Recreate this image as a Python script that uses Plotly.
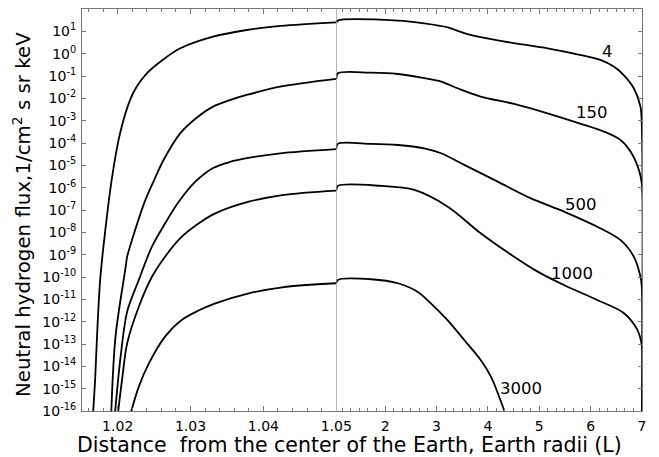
import numpy as np
import plotly.graph_objects as go

# ---------------- data (log10 of flux) ----------------
energies = ["4", "150", "500", "1000", "3000"]

# left panel: L from ~1.015 to 1.05
x4_left = [1.0166, 1.0169, 1.0172, 1.0176, 1.0183, 1.0192, 1.0203, 1.0217, 1.0226, 1.0240, 1.0263, 1.0286, 1.0331, 1.0377, 1.0424, 1.0500]
y4_left = [-16.2, -14.6, -12.4, -10.1, -7.9, -5.6, -3.6, -2.07, -1.48, -0.88, -0.25, 0.24, 0.76, 1.06, 1.24, 1.40]

x150_left = [1.0191, 1.0197, 1.0211, 1.0213, 1.0224, 1.0238, 1.0250, 1.0263, 1.0286, 1.0308, 1.0331, 1.0354, 1.0377, 1.0423, 1.0500]
y150_left = [-16.2, -12.67, -9.54, -9.09, -7.89, -6.55, -5.66, -4.76, -3.56, -2.88, -2.37, -2.08, -1.85, -1.48, -1.13]

x500_left = [1.0196, 1.0204, 1.0213, 1.0229, 1.0247, 1.0266, 1.0284, 1.0307, 1.0331, 1.0354, 1.0377, 1.0423, 1.0500]
y500_left = [-16.2, -13.57, -11.55, -10.13, -8.64, -7.55, -6.62, -5.72, -5.12, -4.85, -4.68, -4.46, -4.27]

x1000_left = [1.0200, 1.0206, 1.0213, 1.0229, 1.0247, 1.0267, 1.0288, 1.0311, 1.0334, 1.0380, 1.0426, 1.0500]
y1000_left = [-16.2, -14.61, -12.97, -11.33, -9.99, -9.0, -8.19, -7.6, -7.15, -6.63, -6.33, -6.13]

x3000_left = [1.0217, 1.0229, 1.0243, 1.0265, 1.0288, 1.0311, 1.0334, 1.0380, 1.0426, 1.0500]
y3000_left = [-16.2, -14.91, -13.86, -12.67, -11.92, -11.5, -11.18, -10.73, -10.46, -10.28]

# right panel: L from 1.05 to 7
x4_right = [1.05, 1.08, 2.25, 2.76, 3.22, 3.54, 3.86, 4.51, 5.16, 5.81, 6.19, 6.45, 6.64, 6.84, 6.97, 7.0, 7.0]
y4_right = [1.40, 1.48, 1.48, 1.36, 1.18, 0.92, 0.74, 0.47, 0.24, -0.06, -0.28, -0.58, -0.95, -1.55, -2.37, -3.56, -17]

x150_right = [1.05, 1.08, 1.73, 2.25, 2.76, 3.09, 3.41, 3.86, 4.51, 5.16, 5.81, 6.26, 6.58, 6.78, 6.94, 7.0, 7.0]
y150_right = [-1.13, -0.88, -0.85, -0.91, -1.10, -1.25, -1.55, -1.92, -2.25, -2.67, -3.14, -3.49, -3.86, -4.39, -5.21, -5.88, -17]

x500_right = [1.05, 1.08, 1.73, 2.25, 2.76, 3.09, 3.54, 4.19, 4.83, 5.48, 6.13, 6.58, 6.84, 6.97, 7.0, 7.0]
y500_right = [-4.27, -4.04, -4.04, -4.09, -4.24, -4.46, -4.98, -5.73, -6.47, -7.07, -7.75, -8.34, -9.09, -9.99, -10.58, -17]

x1000_right = [1.05, 1.08, 1.92, 2.57, 3.22, 3.86, 4.51, 4.97, 5.48, 6.13, 6.65, 6.91, 7.0, 7.0]
y1000_right = [-6.13, -5.92, -5.92, -6.10, -6.85, -8.04, -9.09, -9.76, -10.36, -11.03, -11.62, -12.37, -13.12, -17]

x3000_right = [1.05, 1.08, 1.73, 2.25, 2.63, 2.89, 3.21, 3.54, 3.86, 4.06, 4.22, 4.32, 4.36]
y3000_right = [-10.28, -10.13, -10.10, -10.28, -10.66, -11.18, -11.92, -12.82, -13.72, -14.46, -15.36, -16.0, -16.4]

# label positions (right panel, log10 units)
label_x = [6.32, 6.03, 5.81, 5.64, 4.64]
label_y = [0.09, -2.65, -6.77, -9.83, -14.98]

decades = list(range(-16, 2))
tick_vals_y = [10.0 ** d for d in decades]
tick_text_y = ["10<sup>%d</sup>" % d for d in decades]

left_ticks = [1.02, 1.03, 1.04, 1.05]
right_ticks = [2, 3, 4, 5, 6, 7]

FONT = "DejaVu Sans, Liberation Sans, Arial, sans-serif"
AX = "#777777"

lefts = [(x4_left, y4_left), (x150_left, y150_left), (x500_left, y500_left),
         (x1000_left, y1000_left), (x3000_left, y3000_left)]
rights = [(x4_right, y4_right), (x150_right, y150_right), (x500_right, y500_right),
          (x1000_right, y1000_right), (x3000_right, y3000_right)]

fig = go.Figure()
line = dict(color="black", width=1.8, shape="spline", smoothing=0.9)
for name, (xs, ys) in zip(energies, lefts):
    fig.add_trace(go.Scatter(x=xs, y=10.0 ** np.array(ys), mode="lines", line=line,
                             xaxis="x", yaxis="y", showlegend=False, name=name))
for name, (xs, ys) in zip(energies, rights):
    fig.add_trace(go.Scatter(x=xs, y=10.0 ** np.array(ys), mode="lines", line=line,
                             xaxis="x2", yaxis="y2", showlegend=False, name=name))

split = 0.4541
common_x = dict(showgrid=False, zeroline=False, showline=True, linecolor=AX, linewidth=1,
                ticks="inside", ticklen=5, tickcolor=AX, mirror="ticks", automargin=False,
                ticklabelstandoff=2,
                tickfont=dict(family=FONT, size=14, color="black"))
common_y = dict(type="log", range=[-16, 2], showgrid=False, zeroline=False, showline=True,
                linecolor=AX, linewidth=1, ticks="inside", ticklen=4, tickcolor=AX,
                tickvals=tick_vals_y, ticktext=tick_text_y, automargin=False)

fig.update_layout(
    width=659, height=457,
    margin=dict(l=82, r=17, t=9, b=46),
    paper_bgcolor="white", plot_bgcolor="white",
    font=dict(family=FONT, color="black"),
    xaxis=dict(domain=[0, split], range=[1.0151, 1.05001], anchor="y",
               tickvals=left_ticks, ticktext=["%.2f" % v for v in left_ticks],
               minor=dict(tickmode="linear", tick0=1.0, dtick=0.002, ticks="inside",
                          ticklen=3, tickcolor=AX), **common_x),
    xaxis2=dict(domain=[split, 1], range=[1.05, 7.0001], anchor="y2",
                tickvals=right_ticks, ticktext=[str(v) for v in right_ticks],
                minor=dict(tickmode="linear", tick0=2, dtick=1 / 6, ticks="inside",
                           ticklen=3, tickcolor=AX), **common_x),
    yaxis=dict(anchor="x", side="left", ticklabelstandoff=2,
               tickfont=dict(family=FONT, size=14, color="black"), **common_y),
    yaxis2=dict(anchor="x2", side="right", overlaying="y", showticklabels=False, **common_y),
)

fig.add_shape(type="line", xref="x2", yref="paper", x0=1.05, x1=1.05, y0=0, y1=1,
              line=dict(color=AX, width=1))

for txt, lx, ly in zip(energies, label_x, label_y):
    fig.add_annotation(x=lx, y=ly, xref="x2", yref="y2", text=txt, showarrow=False,
                       font=dict(family=FONT, size=16.5, color="black"))

fig.add_annotation(x=0.477, y=-0.0836, xref="paper", yref="paper",
                   text="Distance  from the center of the Earth, Earth radii (L)",
                   showarrow=False, xanchor="center", yanchor="middle",
                   font=dict(family=FONT, size=20.5, color="black"))
fig.add_annotation(x=-0.107, y=0.4876, xref="paper", yref="paper",
                   text="Neutral hydrogen flux,1/cm<sup>2</sup> s sr keV",
                   showarrow=False, xanchor="center", yanchor="middle", textangle=-90,
                   font=dict(family=FONT, size=19.8, color="black"))

fig.write_html("out.html")
